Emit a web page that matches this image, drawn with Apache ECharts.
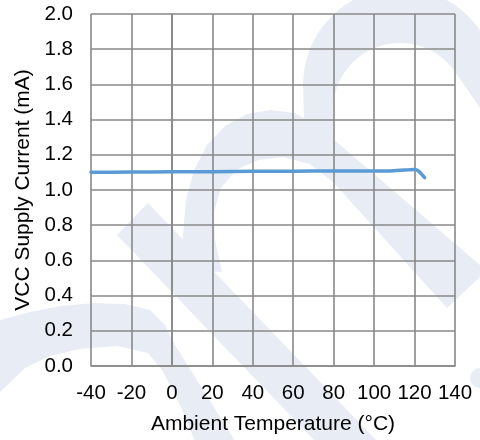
<!DOCTYPE html>
<html>
<head>
<meta charset="utf-8">
<script src="https://cdn.jsdelivr.net/npm/echarts@6/dist/echarts.min.js"></script>
<style>
html,body{margin:0;padding:0;background:#fff;}
#chart{width:480px;height:440px;}
</style>
</head>
<body>
<div id="chart"></div>
<script>
// ---- data ----
var temperatures = [-40, -20, 0, 20, 40, 60, 80, 100, 110, 115, 120, 122, 125];
var supplyCurrent = [1.101, 1.102, 1.103, 1.104, 1.106, 1.107, 1.108, 1.108, 1.110, 1.113, 1.117, 1.107, 1.070];
var xTicks = [-40, -20, 0, 20, 40, 60, 80, 100, 120, 140];
var yTicks = [0.0, 0.2, 0.4, 0.6, 0.8, 1.0, 1.2, 1.4, 1.6, 1.8, 2.0];
var xTitle = 'Ambient Temperature (°C)';
var yTitle = 'VCC Supply Current (mA)';

// ---- background watermark (decoration only) ----
function arcPts(cx, cy, r, a0, a1, step) {
  var pts = [], s = a1 > a0 ? step : -step;
  for (var a = a0; s > 0 ? a <= a1 : a >= a1; a += s) {
    var t = a * Math.PI / 180;
    pts.push([cx + r * Math.cos(t), cy - r * Math.sin(t)]);
  }
  return pts;
}
var wm = '#e8edf5';
var ring = [].concat(
  arcPts(400, 85, 97, 180, 35, 5),
  [[536, 111], [512, 154]],
  arcPts(400, 110, 67, 35, 180, 5),
  [[333, 150], [305, 150]]
);
var arch = [[182, 270], [183, 233], [186, 200], [194, 170], [207, 145], [225, 126], [247, 114], [270, 110],
  [295, 113], [318, 126], [480, 265], [482, 275], [447, 308], [333, 182], [310, 164], [283, 157], [258, 160],
  [236, 170], [221, 188], [214, 212], [215, 240], [222, 272]];
var stripe = [[117, 235], [148, 203], [400, 465], [338, 465]];
var lowArc = [[-10, 325], [0, 320], [30, 312], [60, 306], [95, 303], [125, 304], [150, 310], [165, 325], [175, 345],
  [250, 465], [205, 465], [180, 405], [162, 370], [148, 353], [117, 346], [80, 349], [50, 356], [25, 368], [0, 392], [-10, 400]];

var chart = echarts.init(document.getElementById('chart'), null, {renderer: 'canvas'});
var fontFam = 'Liberation Sans, Arial, sans-serif';
var axisFont = {fontFamily: fontFam, fontSize: 20.5, color: '#000'};
var gridColor = '#888888';

chart.setOption({
  animation: false,
  backgroundColor: '#fff',
  graphic: {
    elements: [
      {type: 'polygon', z: -10, silent: true, shape: {points: ring}, style: {fill: wm}},
      {type: 'polygon', z: -10, silent: true, shape: {points: arch}, style: {fill: wm}},
      {type: 'polygon', z: -10, silent: true, shape: {points: stripe}, style: {fill: wm}},
      {type: 'polygon', z: -10, silent: true, shape: {points: lowArc}, style: {fill: wm}},
      {type: 'circle', z: -10, silent: true, shape: {cx: 480, cy: 378, r: 10}, style: {fill: wm}}
    ]
  },
  grid: {left: 91, right: 25, top: 14, bottom: 73, containLabel: false},
  xAxis: {
    type: 'value',
    min: xTicks[0], max: xTicks[xTicks.length - 1], interval: 20,
    name: xTitle, nameLocation: 'middle', nameGap: 48,
    nameTextStyle: {fontFamily: fontFam, fontSize: 21, color: '#000'},
    axisLine: {show: true, lineStyle: {color: gridColor, width: 1.6}},
    axisTick: {show: false},
    axisLabel: Object.assign({margin: 17}, axisFont),
    splitLine: {show: true, lineStyle: {color: gridColor, width: 1.6}}
  },
  yAxis: {
    type: 'value',
    min: yTicks[0], max: yTicks[yTicks.length - 1], interval: 0.2,
    name: yTitle, nameLocation: 'middle', nameGap: 56,
    nameTextStyle: {fontFamily: fontFam, fontSize: 21, color: '#000'},
    axisLine: {show: true, lineStyle: {color: gridColor, width: 1.6}},
    axisTick: {show: false},
    axisLabel: Object.assign({margin: 18, formatter: function (v) { return v.toFixed(1); }}, axisFont),
    splitLine: {show: true, lineStyle: {color: gridColor, width: 1.6}}
  },
  series: [{
    type: 'line',
    data: temperatures.map(function (t, i) { return [t, supplyCurrent[i]]; }),
    showSymbol: false,
    smooth: 0.2,
    lineStyle: {color: '#5b9bd5', width: 3.5, cap: 'round'},
    z: 5
  }]
});
</script>
</body>
</html>
